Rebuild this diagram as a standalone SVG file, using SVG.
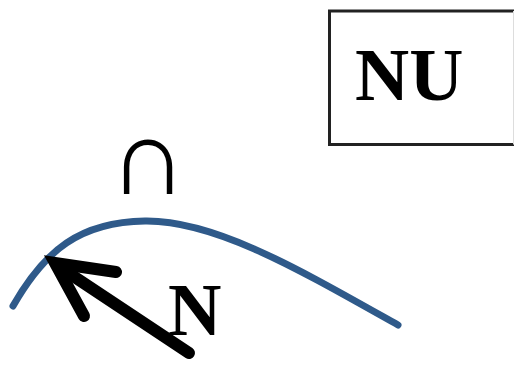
<svg xmlns="http://www.w3.org/2000/svg" width="515" height="366" viewBox="0 0 515 366">
<style>
.lbl{font-family:"Liberation Serif","Times New Roman",serif;font-weight:bold;fill:#000}
.arr{fill:none;stroke:#000;stroke-width:12;stroke-linecap:round;stroke-linejoin:miter}
</style>
<rect width="515" height="366" fill="#fff"/>
<g id="box-NU">
<path d="M514,11 H329.5 V144.5 H514" fill="none" stroke="#222" stroke-width="3"/>
<line x1="513.5" y1="11" x2="513.5" y2="144.5" stroke="#ddd" stroke-width="1"/>
<text class="lbl" x="355" y="100" font-size="75">NU</text>
</g>
<g id="label-cap">
<text class="lbl" x="148" y="194" font-size="108" text-anchor="middle" font-family="DejaVu Serif, serif">∩</text>
</g>
<g id="curve">
<path d="M13,306 C45,250 80,222 145,221 C215,220 300,270 398,325" fill="none" stroke="#2F5A8A" stroke-width="7" stroke-linecap="round"/>
</g>
<g id="connectors">
<line class="arr" x1="189" y1="353" x2="58" y2="266"/>
<path class="arr" d="M116,272 L55,263 L84,316"/>
</g>
<g id="label-N">
<text class="lbl" x="168" y="335" font-size="74">N</text>
</g>
</svg>
